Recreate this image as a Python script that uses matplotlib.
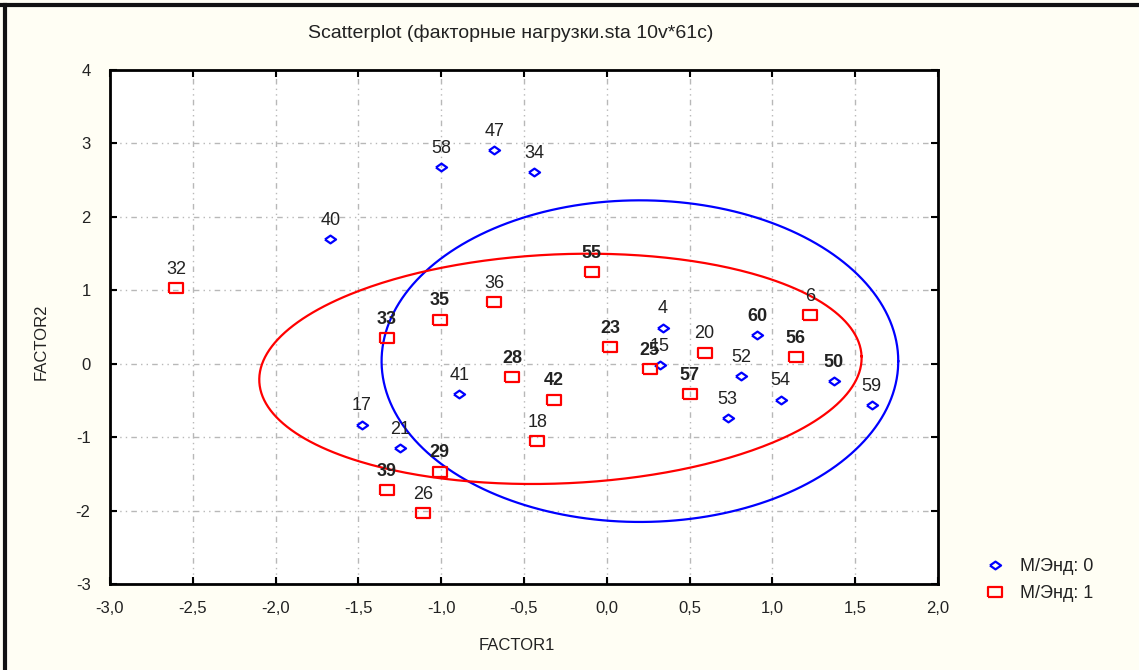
"""Factor scores scatterplot (FACTOR1 vs FACTOR2) split by М/Энд group."""

import matplotlib

matplotlib.use("Agg")

import matplotlib.pyplot as plt  # noqa: E402
import numpy as np  # noqa: E402
from matplotlib.lines import Line2D  # noqa: E402
from matplotlib.ticker import FuncFormatter, MultipleLocator  # noqa: E402


# group М/Энд = 0
G0_LABELS = ["58", "47", "34", "40", "4", "15", "60", "52", "54", "53",
             "50", "59", "41", "17", "21"]
G0_X = [-1.00, -0.68, -0.44, -1.67, 0.34, 0.32, 0.91, 0.81, 1.05, 0.73,
        1.37, 1.60, -0.89, -1.48, -1.25]
G0_Y = [2.68, 2.91, 2.61, 1.70, 0.49, -0.02, 0.39, -0.17, -0.49, -0.74,
        -0.24, -0.56, -0.41, -0.83, -1.15]

# group М/Энд = 1
G1_LABELS = ["32", "55", "36", "35", "33", "23", "25", "20", "6", "56",
             "28", "42", "18", "57", "29", "39", "26"]
G1_X = [-2.60, -0.09, -0.68, -1.01, -1.33, 0.02, 0.26, 0.59, 1.23, 1.14,
        -0.57, -0.32, -0.42, 0.50, -1.01, -1.33, -1.11]
G1_Y = [1.03, 1.25, 0.84, 0.60, 0.35, 0.23, -0.07, 0.15, 0.66, 0.09,
        -0.18, -0.49, -1.05, -0.41, -1.47, -1.72, -2.03]

# labels printed on top of another case number (drawn heavier)
STACKED = {"55", "35", "33", "23", "25", "28", "42", "57", "39", "60",
           "56", "50", "29"}

# ellipses: centre x, centre y, semi-axis x, semi-axis y (data units), tilt (deg)
G0_ELLIPSE = [0.20, 0.035, 1.56, 2.19, 0.0]
G1_ELLIPSE = [-0.28, -0.07, 1.82, 1.56, 2.4]

GROUP_NAMES = ["М/Энд: 0", "М/Энд: 1"]

BG = "#fffef4"
BLUE = "#0000ff"
RED = "#ff0000"
TEXT = "#222222"

DIAMOND = [(-1, 0), (0, 0.7), (1, 0), (0, -0.7), (-1, 0)]
RECT = [(-1, -0.75), (1, -0.75), (1, 0.75), (-1, 0.75), (-1, -0.75)]

X_RANGE = (-3.0, 2.0)
Y_RANGE = (-3.0, 4.0)


def ellipse_xy(ax, params):
    # tilt is applied in screen space so it looks right with unequal scales
    cx, cy, a, b, tilt = params
    t = np.linspace(0, 2 * np.pi, 400)
    bbox = ax.get_window_extent()
    sx = bbox.width / (X_RANGE[1] - X_RANGE[0])
    sy = bbox.height / (Y_RANGE[1] - Y_RANGE[0])
    u = a * np.cos(t) * sx
    v = b * np.sin(t) * sy
    th = np.radians(tilt)
    ur = u * np.cos(th) - v * np.sin(th)
    vr = u * np.sin(th) + v * np.cos(th)
    return cx + ur / sx, cy + vr / sy


def comma(val, digits):
    return f"{val:.{digits}f}".replace(".", ",")


def main():
    plt.rcParams["font.family"] = ["Liberation Sans", "DejaVu Sans"]
    fig = plt.figure(figsize=(11.39, 6.70), dpi=100, facecolor=BG)
    ax = fig.add_axes([110 / 1139, 1 - 584 / 670, 828 / 1139, 514 / 670])
    ax.set_facecolor("white")
    ax.set_xlim(*X_RANGE)
    ax.set_ylim(*Y_RANGE)

    ax.xaxis.set_major_locator(MultipleLocator(0.5))
    ax.yaxis.set_major_locator(MultipleLocator(1))
    ax.xaxis.set_major_formatter(FuncFormatter(lambda v, p: comma(v, 1)))
    ax.yaxis.set_major_formatter(FuncFormatter(lambda v, p: comma(v, 0)))
    ax.tick_params(direction="in", length=5, width=1.5, top=True, right=True,
                   labelsize=12, colors="black", labelcolor=TEXT)
    ax.tick_params(axis="x", pad=12)
    ax.tick_params(axis="y", pad=14)
    for spine in ax.spines.values():
        spine.set_linewidth(2)
    ax.grid(True, color="#b8b8b8", linewidth=1, linestyle=(0, (4, 3, 1, 3, 1, 3)))
    ax.set_axisbelow(True)

    ax.set_xlabel("FACTOR1", fontsize=12, color=TEXT)
    ax.set_ylabel("FACTOR2", fontsize=12, color=TEXT)
    ax.xaxis.set_label_coords(0.4915, -0.106)
    ax.yaxis.set_label_coords(-0.074, 0.471)
    fig.text(511 / 1139, 1 - 33 / 670,
             "Scatterplot (факторные нагрузки.sta 10v*61c)",
             ha="center", va="center", fontsize=14, color=TEXT)

    for params, color in ((G0_ELLIPSE, BLUE), (G1_ELLIPSE, RED)):
        ex, ey = ellipse_xy(ax, params)
        ax.plot(ex, ey, color=color, linewidth=1.6, zorder=2)

    groups = [
        (G0_LABELS, G0_X, G0_Y, BLUE, DIAMOND, 8),
        (G1_LABELS, G1_X, G1_Y, RED, RECT, 10),
    ]
    for labels, xs, ys, color, marker, size in groups:
        ax.plot(xs, ys, linestyle="none", marker=marker, markersize=size,
                markerfacecolor="none", markeredgecolor=color,
                markeredgewidth=1.6, zorder=3)
        for lab, x, y in zip(labels, xs, ys):
            ax.annotate(lab, (x, y), xytext=(0, 13.5), textcoords="offset points",
                        ha="center", va="center", fontsize=13, color=TEXT,
                        fontweight="bold" if lab in STACKED else "normal",
                        zorder=4)

    handles = [
        Line2D([], [], linestyle="none", marker=DIAMOND, markersize=8,
               markerfacecolor="none", markeredgecolor=BLUE, markeredgewidth=1.6),
        Line2D([], [], linestyle="none", marker=RECT, markersize=10,
               markerfacecolor="none", markeredgecolor=RED, markeredgewidth=1.6),
    ]
    fig.legend(handles, GROUP_NAMES, loc="center left",
               bbox_to_anchor=(968 / 1139, 1 - 580 / 670), frameon=False,
               fontsize=13, handlelength=1.2, handletextpad=0.8,
               labelspacing=0.55, labelcolor=TEXT)

    # outer frame along the top and left edges
    fig.add_artist(Line2D([0, 1], [1 - 5 / 670, 1 - 5 / 670], color="#111111",
                          linewidth=3, transform=fig.transFigure))
    fig.add_artist(Line2D([5 / 1139, 5 / 1139], [0, 1 - 5 / 670], color="#111111",
                          linewidth=3, transform=fig.transFigure))

    fig.savefig("out.png", dpi=100, facecolor=BG)
    plt.close(fig)


if __name__ == "__main__":
    main()
